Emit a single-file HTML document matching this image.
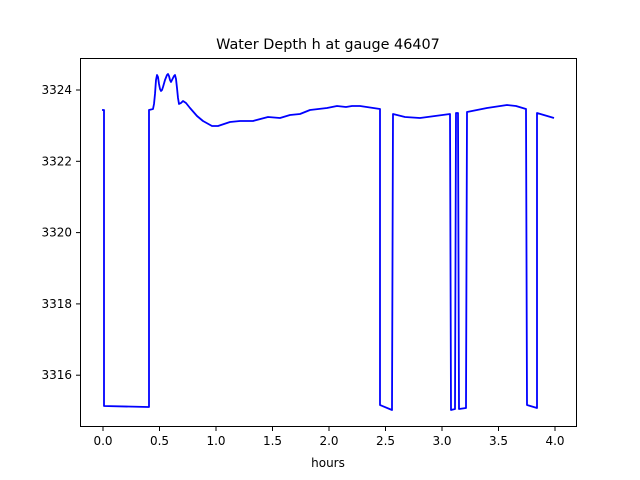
<!DOCTYPE html>
<html><head><style>body{margin:0;background:#fff}svg{display:block}text{font-family:"DejaVu Sans","Liberation Sans",sans-serif;fill:#000}</style></head>
<body>
<svg width="640" height="480" viewBox="0 0 640 480">
<rect width="640" height="480" fill="#fff"/>
<polyline fill="none" stroke="#0000ff" stroke-width="1.8" stroke-linejoin="round" points="102,110 104,110 104,406 148,407 149,407 149,110 153,109 154,104 155,94 156,80 157,75 158,77 159,84 160,89 161,91 162,90 163,87 165,80 167,75 168,74 169,76 170,80 171,82 172,80 174,76 175,75 176,79 177,88 178,98 179,104 181,103 183,101 186,103 190,108 197,116 203,121 212,126 218,126 230,122 240,121 253,121 268,117 280,118 290,115 300,114 310,110 327,108 337,106 346,107 352,106 360,106 380,109 380,405 392,410 393,114 405,117 420,118 435,116 450,114 451,410 455,409 456,113 458,113 459,409 466,408 467,112 487,108 507,105 516,106 526,109 527,405 537,408 537,113 554,118"/>
<rect x="80.5" y="58.5" width="496" height="368" fill="none" stroke="#000" stroke-width="1"/>
<g stroke="#000" stroke-width="1">
<line x1="103" y1="427" x2="103" y2="431"/><line x1="159.5" y1="427" x2="159.5" y2="431"/><line x1="216" y1="427" x2="216" y2="431"/><line x1="272.5" y1="427" x2="272.5" y2="431"/><line x1="329" y1="427" x2="329" y2="431"/><line x1="385.5" y1="427" x2="385.5" y2="431"/><line x1="442" y1="427" x2="442" y2="431"/><line x1="498.5" y1="427" x2="498.5" y2="431"/><line x1="555" y1="427" x2="555" y2="431"/>
<line x1="76" y1="90" x2="80" y2="90"/><line x1="76" y1="161.3" x2="80" y2="161.3"/><line x1="76" y1="232.6" x2="80" y2="232.6"/><line x1="76" y1="303.9" x2="80" y2="303.9"/><line x1="76" y1="375.2" x2="80" y2="375.2"/>
</g>
<g font-size="12" text-anchor="middle">
<text x="103" y="445">0.0</text><text x="159.5" y="445">0.5</text><text x="216" y="445">1.0</text><text x="272.5" y="445">1.5</text><text x="329" y="445">2.0</text><text x="385.5" y="445">2.5</text><text x="442" y="445">3.0</text><text x="498.5" y="445">3.5</text><text x="555" y="445">4.0</text>
<text x="328" y="467">hours</text>
</g>
<g font-size="12" text-anchor="end">
<text x="72" y="94">3324</text><text x="72" y="165.3">3322</text><text x="72" y="236.6">3320</text><text x="72" y="307.9">3318</text><text x="72" y="379.2">3316</text>
</g>
<text x="328" y="49" font-size="14.4" text-anchor="middle">Water Depth h at gauge 46407</text>
</svg>
</body></html>
